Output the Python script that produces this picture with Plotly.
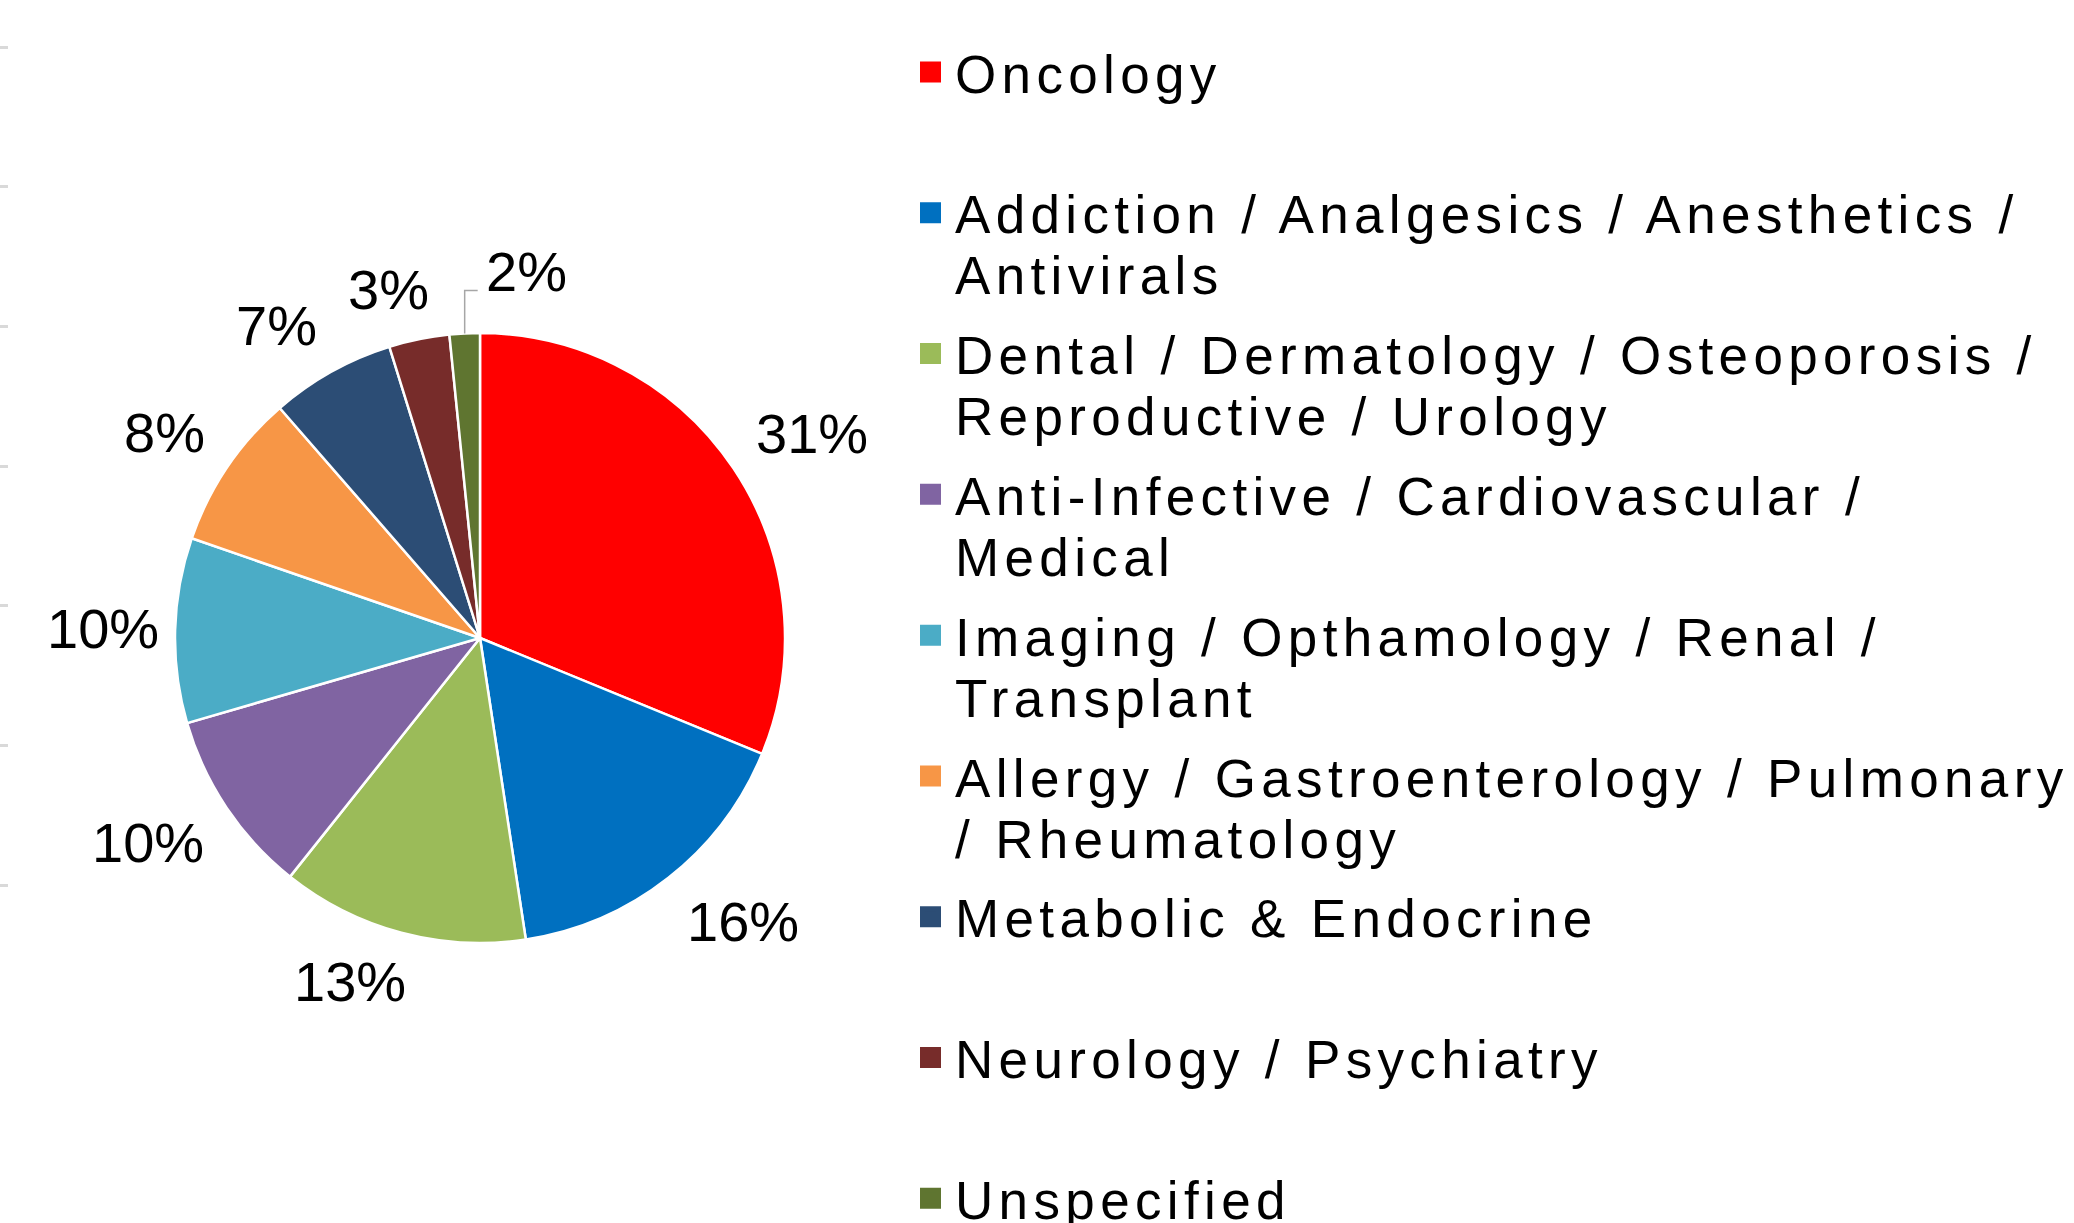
import math
import plotly.graph_objects as go

categories = [
    "Oncology",
    "Addiction / Analgesics / Anesthetics /<br>Antivirals",
    "Dental / Dermatology / Osteoporosis /<br>Reproductive / Urology",
    "Anti-Infective / Cardiovascular /<br>Medical",
    "Imaging / Opthamology / Renal /<br>Transplant",
    "Allergy / Gastroenterology / Pulmonary<br>/ Rheumatology",
    "Metabolic & Endocrine",
    "Neurology / Psychiatry",
    "Unspecified",
]
shares = [31.2, 16.4, 13.1, 9.8, 9.8, 8.3, 6.6, 3.2, 1.6]
colors = ["#FF0000", "#0070C0", "#9BBB59", "#8064A2", "#4BACC6",
          "#F79646", "#2C4D75", "#772C2A", "#5F7530"]
edge_ticks = [0, 1, 2, 3, 4, 5, 6]

W, H = 2074, 1223
FONT = "Liberation Sans, Arial, sans-serif"
LABEL_SIZE = 56

# pie geometry (pixels)
CX, CY, R = 480, 638, 305

fig = go.Figure()

fig.add_trace(go.Pie(
    labels=categories,
    values=shares,
    sort=False,
    direction="clockwise",
    rotation=0,
    marker=dict(colors=colors, line=dict(color="white", width=2.5)),
    textinfo="none",
    showlegend=False,
    domain=dict(x=[(CX - R) / W, (CX + R) / W],
                y=[(H - CY - R) / H, (H - CY + R) / H]),
))

for name, col in zip(categories, colors):
    label = name if "<br>" in name else name + "<br>"
    fig.add_trace(go.Scatter(
        x=[None], y=[None], mode="markers", name=label,
        marker=dict(symbol="square", size=16, color=col,
                    line=dict(color=col, width=5)),
        hoverinfo="skip",
    ))


def clamp(v):
    return max(-1.0, min(1.0, v))


# percentage labels placed outside each slice ("outside end"), from the data angles
total = sum(shares)
annotations = []
shapes = []
cum = 0.0
for v in shares:
    mid = (cum + v / 2) / total * 2 * math.pi
    cum += v
    txt = f"{round(v / total * 100)}%"
    ux, uy = math.sin(mid), -math.cos(mid)
    font = dict(family=FONT, size=LABEL_SIZE, color="black")
    if v / total < 0.025:
        ex, ey = CX + R * ux, CY + R * uy
        path = (f"M {ex / W},{1 - ey / H} L {ex / W},{1 - (ey - 43) / H} "
                f"L {(ex + 13) / W},{1 - (ey - 43) / H}")
        shapes.append(dict(type="path", xref="paper", yref="paper", path=path,
                           line=dict(color="#A6A6A6", width=1.5)))
        annotations.append(dict(x=(ex + 19) / W, y=1 - (ey - 62) / H,
                                xref="paper", yref="paper", text=txt,
                                showarrow=False, xanchor="left", yanchor="middle",
                                font=font))
    else:
        digits = len(txt) - 1
        half_w = LABEL_SIZE * (0.556 * digits + 0.889) / 2
        half_h = 20
        gap = 30 - 14 * abs(ux) ** 8
        px = CX + (R + gap) * ux + half_w * clamp(3 * ux)
        py = CY + (R + gap) * uy + half_h * clamp(3 * uy)
        annotations.append(dict(x=px / W, y=1 - py / H,
                                xref="paper", yref="paper", text=txt,
                                showarrow=False, xanchor="center", yanchor="middle",
                                font=font))

fig.update_layout(
    width=W, height=H,
    margin=dict(l=0, r=0, t=0, b=0, autoexpand=False),
    paper_bgcolor="white", plot_bgcolor="white",
    font=dict(family=FONT, color="black"),
    xaxis=dict(visible=False, range=[0, 1], fixedrange=True),
    yaxis=dict(range=[-2.42, 6.3365], showgrid=False, zeroline=False,
               showticklabels=False, showline=False, ticks="inside",
               ticklen=8, tickwidth=3, tickcolor="#D9D9D9",
               tickvals=edge_ticks, fixedrange=True),
    legend=dict(
        x=906 / W, xanchor="left",
        y=1 - 31 / H, yanchor="top",
        valign="top",
        itemwidth=39,
        font=dict(family=FONT, size=53, color="black"),
        bgcolor="rgba(0,0,0,0)",
        borderwidth=0,
        maxheight=4000,
    ),
    annotations=annotations,
    shapes=shapes,
)

post = """
document.body.style.margin = '0px';
var gd = document.getElementById('{plot_id}');
gd.querySelectorAll('.legendtext').forEach(function(t){
    t.style.letterSpacing = '5.35px';
    t.querySelectorAll('tspan.line').forEach(function(s){
        if (s.getAttribute('dy') === '1.3em') { s.setAttribute('dy', '1.15em'); }
    });
});
gd.querySelectorAll('.legend .scrollbox').forEach(function(e){ e.removeAttribute('clip-path'); });
"""

fig.write_html("out.html", post_script=post, config={"displayModeBar": False})
